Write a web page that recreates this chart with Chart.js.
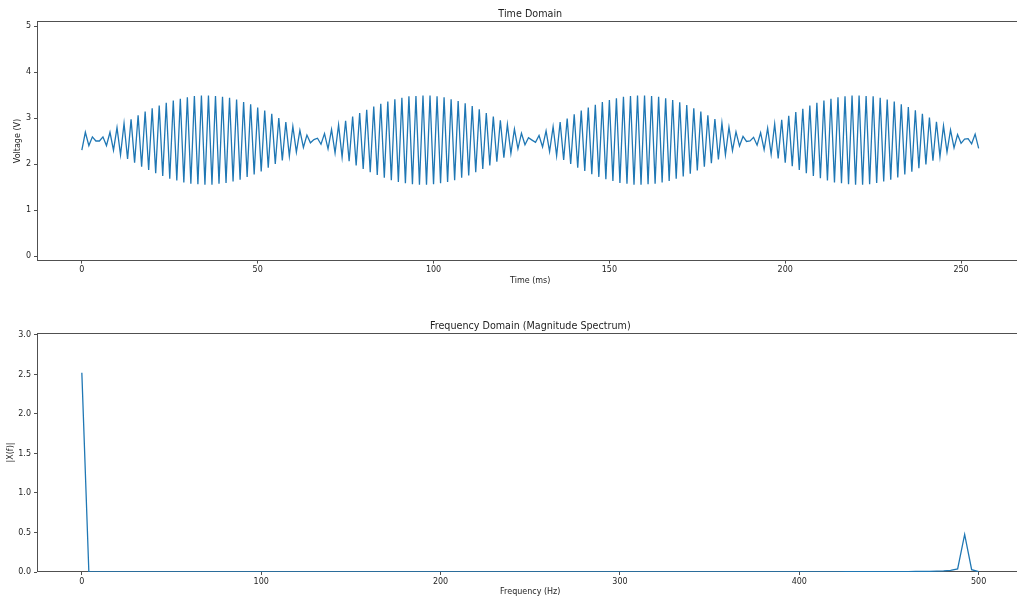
<!DOCTYPE html>
<html>
<head>
<meta charset="utf-8">
<script src="https://cdn.jsdelivr.net/npm/chart.js@4.4.1/dist/chart.umd.min.js"></script>
<style>
  html, body { margin: 0; padding: 0; background: #fff; overflow: hidden; }
  #wrap { position: relative; width: 1017px; height: 601px; overflow: hidden; background: #fff; }
  canvas { position: absolute; left: 0; }
  #timeCanvas { top: 0; width: 1040px; height: 300px; }
  #freqCanvas { top: 300px; width: 1040px; height: 301px; }
</style>
</head>
<body>
<div id="wrap">
  <canvas id="timeCanvas" width="1040" height="300"></canvas>
  <canvas id="freqCanvas" width="1040" height="301"></canvas>
</div>
<script>
// Sample times of the captured record (ms)
const timeMs = [
  0, 1, 2, 3, 4, 5, 6, 7, 8, 9, 10, 11, 12, 13, 14, 15,
  16, 17, 18, 19, 20, 21, 22, 23, 24, 25, 26, 27, 28, 29, 30, 31,
  32, 33, 34, 35, 36, 37, 38, 39, 40, 41, 42, 43, 44, 45, 46, 47,
  48, 49, 50, 51, 52, 53, 54, 55, 56, 57, 58, 59, 60, 61, 62, 63,
  64, 65, 66, 67, 68, 69, 70, 71, 72, 73, 74, 75, 76, 77, 78, 79,
  80, 81, 82, 83, 84, 85, 86, 87, 88, 89, 90, 91, 92, 93, 94, 95,
  96, 97, 98, 99, 100, 101, 102, 103, 104, 105, 106, 107, 108, 109, 110, 111,
  112, 113, 114, 115, 116, 117, 118, 119, 120, 121, 122, 123, 124, 125, 126, 127,
  128, 129, 130, 131, 132, 133, 134, 135, 136, 137, 138, 139, 140, 141, 142, 143,
  144, 145, 146, 147, 148, 149, 150, 151, 152, 153, 154, 155, 156, 157, 158, 159,
  160, 161, 162, 163, 164, 165, 166, 167, 168, 169, 170, 171, 172, 173, 174, 175,
  176, 177, 178, 179, 180, 181, 182, 183, 184, 185, 186, 187, 188, 189, 190, 191,
  192, 193, 194, 195, 196, 197, 198, 199, 200, 201, 202, 203, 204, 205, 206, 207,
  208, 209, 210, 211, 212, 213, 214, 215, 216, 217, 218, 219, 220, 221, 222, 223,
  224, 225, 226, 227, 228, 229, 230, 231, 232, 233, 234, 235, 236, 237, 238, 239,
  240, 241, 242, 243, 244, 245, 246, 247, 248, 249, 250, 251, 252, 253, 254, 255
];

// Measured voltage at each sample (V)
const voltage = [
  2.30, 2.69, 2.40, 2.59, 2.50, 2.50, 2.59, 2.40, 2.69, 2.30, 2.79, 2.20, 2.88, 2.11, 2.97, 2.03,
  3.06, 1.94, 3.14, 1.87, 3.21, 1.80, 3.27, 1.74, 3.33, 1.68, 3.38, 1.64, 3.42, 1.60, 3.45, 1.57,
  3.48, 1.56, 3.49, 1.55, 3.49, 1.55, 3.48, 1.57, 3.46, 1.59, 3.44, 1.62, 3.40, 1.66, 3.35, 1.72,
  3.30, 1.77, 3.23, 1.84, 3.16, 1.92, 3.09, 2.00, 3.00, 2.08, 2.91, 2.17, 2.82, 2.26, 2.73, 2.36,
  2.63, 2.46, 2.53, 2.56, 2.43, 2.66, 2.33, 2.75, 2.24, 2.85, 2.15, 2.94, 2.06, 3.03, 1.97, 3.11,
  1.89, 3.18, 1.82, 3.25, 1.76, 3.31, 1.70, 3.36, 1.65, 3.41, 1.61, 3.44, 1.58, 3.47, 1.56, 3.48,
  1.55, 3.49, 1.55, 3.49, 1.56, 3.47, 1.58, 3.45, 1.61, 3.41, 1.65, 3.37, 1.70, 3.32, 1.75, 3.26,
  1.82, 3.19, 1.89, 3.11, 1.97, 3.03, 2.05, 2.95, 2.14, 2.86, 2.23, 2.76, 2.33, 2.67, 2.42, 2.57,
  2.52, 2.47, 2.62, 2.37, 2.72, 2.27, 2.81, 2.18, 2.91, 2.09, 2.99, 2.00, 3.08, 1.92, 3.16, 1.85,
  3.23, 1.78, 3.29, 1.72, 3.35, 1.67, 3.39, 1.63, 3.43, 1.59, 3.46, 1.57, 3.48, 1.55, 3.49, 1.55,
  3.49, 1.56, 3.48, 1.57, 3.46, 1.60, 3.43, 1.63, 3.39, 1.68, 3.34, 1.73, 3.28, 1.79, 3.21, 1.86,
  3.14, 1.94, 3.06, 2.02, 2.98, 2.10, 2.89, 2.20, 2.80, 2.29, 2.70, 2.39, 2.60, 2.49, 2.50, 2.58,
  2.41, 2.68, 2.31, 2.78, 2.21, 2.87, 2.12, 2.96, 2.03, 3.05, 1.95, 3.13, 1.87, 3.20, 1.80, 3.27,
  1.74, 3.33, 1.69, 3.38, 1.64, 3.42, 1.60, 3.45, 1.58, 3.47, 1.56, 3.49, 1.55, 3.49, 1.55, 3.48,
  1.56, 3.47, 1.59, 3.44, 1.62, 3.40, 1.66, 3.36, 1.71, 3.30, 1.77, 3.24, 1.83, 3.17, 1.91, 3.09,
  1.99, 3.01, 2.07, 2.92, 2.16, 2.83, 2.26, 2.74, 2.35, 2.64, 2.45, 2.54, 2.55, 2.44, 2.65, 2.34
];

// FFT bin frequencies (Hz)
const freqHz = [
  0, 3.91, 7.81, 11.72, 15.63, 19.53, 23.44, 27.34, 31.25, 35.16, 39.06, 42.97, 46.88, 50.78, 54.69, 58.59,
  62.5, 66.41, 70.31, 74.22, 78.13, 82.03, 85.94, 89.84, 93.75, 97.66, 101.56, 105.47, 109.38, 113.28, 117.19, 121.09,
  125, 128.91, 132.81, 136.72, 140.63, 144.53, 148.44, 152.34, 156.25, 160.16, 164.06, 167.97, 171.88, 175.78, 179.69, 183.59,
  187.5, 191.41, 195.31, 199.22, 203.13, 207.03, 210.94, 214.84, 218.75, 222.66, 226.56, 230.47, 234.38, 238.28, 242.19, 246.09,
  250, 253.91, 257.81, 261.72, 265.63, 269.53, 273.44, 277.34, 281.25, 285.16, 289.06, 292.97, 296.88, 300.78, 304.69, 308.59,
  312.5, 316.41, 320.31, 324.22, 328.13, 332.03, 335.94, 339.84, 343.75, 347.66, 351.56, 355.47, 359.38, 363.28, 367.19, 371.09,
  375, 378.91, 382.81, 386.72, 390.63, 394.53, 398.44, 402.34, 406.25, 410.16, 414.06, 417.97, 421.88, 425.78, 429.69, 433.59,
  437.5, 441.41, 445.31, 449.22, 453.13, 457.03, 460.94, 464.84, 468.75, 472.66, 476.56, 480.47, 484.38, 488.28, 492.19, 496.09,
  500
];

// Magnitude |X(f)| of each bin
const magnitude = [
  2.52, 0.0006, 0.0006, 0.0006, 0.0006, 0.0006, 0.0006, 0.0006, 0.0006, 0.0006, 0.0006, 0.0006, 0.0006, 0.0006, 0.0006, 0.0006,
  0.0006, 0.0006, 0.0006, 0.0006, 0.0006, 0.0006, 0.0006, 0.0006, 0.0006, 0.0006, 0.0006, 0.0006, 0.0006, 0.0006, 0.0006, 0.0007,
  0.0007, 0.0007, 0.0007, 0.0007, 0.0007, 0.0007, 0.0007, 0.0007, 0.0007, 0.0007, 0.0007, 0.0007, 0.0007, 0.0007, 0.0007, 0.0007,
  0.0007, 0.0007, 0.0007, 0.0007, 0.0007, 0.0007, 0.0007, 0.0007, 0.0008, 0.0008, 0.0008, 0.0008, 0.0008, 0.0008, 0.0008, 0.0008,
  0.0008, 0.0008, 0.0009, 0.0009, 0.0009, 0.0009, 0.0009, 0.0009, 0.0009, 0.001, 0.001, 0.001, 0.001, 0.001, 0.001, 0.0011,
  0.0011, 0.0011, 0.0011, 0.0011, 0.0012, 0.0012, 0.0012, 0.0012, 0.0014, 0.0014, 0.0014, 0.0015, 0.0015, 0.0015, 0.0016, 0.0016,
  0.0016, 0.0018, 0.0018, 0.0018, 0.0019, 0.002, 0.0021, 0.0022, 0.0022, 0.0023, 0.0025, 0.0026, 0.0027, 0.0029, 0.003, 0.0032,
  0.0034, 0.0037, 0.0039, 0.0042, 0.0046, 0.0051, 0.0056, 0.0064, 0.0074, 0.0087, 0.0107, 0.0139, 0.0202, 0.0395, 0.475, 0.03,
  0.005
];

// Axis ticks
const timeTicks = [0, 50, 100, 150, 200, 250];
const voltTicks = [0, 1, 2, 3, 4, 5];
const voltTickLabels = ['0', '1', '2', '3', '4', '5'];
const freqTicks = [0, 100, 200, 300, 400, 500];
const magTicks = [0, 0.5, 1, 1.5, 2, 2.5, 3];
const magTickLabels = ['0.0', '0.5', '1.0', '1.5', '2.0', '2.5', '3.0'];

const FONT = "'DejaVu Sans', sans-serif";
const INK = '#1e1e1e';
const SPINE = '#505050';
const TRACE = '#1f77b4';

Chart.defaults.font.family = FONT;
Chart.defaults.color = INK;

// Box around the plotting area (all four sides), drawn under the trace
const frame = {
  id: 'frame',
  beforeDatasetsDraw(chart) {
    const { ctx, chartArea: a } = chart;
    const l = Math.round(a.left) + 0.5, t = Math.round(a.top) + 0.5;
    const r = Math.round(a.right) - 0.5, b = Math.round(a.bottom) - 0.5;
    ctx.save();
    ctx.strokeStyle = SPINE;
    ctx.lineWidth = 1;
    ctx.strokeRect(l, t, r - l, b - t);
    ctx.restore();
  }
};

function panel(canvas, o) {
  const points = o.xs.map((x, i) => ({ x, y: o.ys[i] }));
  return new Chart(canvas, {
    type: 'line',
    data: {
      datasets: [{
        data: points,
        borderColor: TRACE,
        borderWidth: 1.3,
        pointRadius: 0,
        fill: false,
        tension: 0
      }]
    },
    options: {
      responsive: false,
      animation: false,
      devicePixelRatio: 1,
      layout: { padding: { left: 0, right: 16.5, top: 0, bottom: 0 } },
      plugins: {
        legend: { display: false },
        tooltip: { enabled: false },
        title: {
          display: true,
          text: o.title,
          fullSize: false,
          color: INK,
          font: { family: FONT, size: 9.6, weight: 'normal', lineHeight: 1.2 },
          padding: { top: o.titleTop, bottom: o.titleBottom }
        }
      },
      scales: {
        x: {
          type: 'linear',
          min: o.xMin,
          max: o.xMax,
          afterBuildTicks: s => { s.ticks = o.xTicks.map(v => ({ value: v })); },
          afterFit: s => { s.height = o.xHeight; },
          ticks: {
            autoSkip: false, maxRotation: 0, padding: 2, color: INK,
            font: { family: FONT, size: 8 },
            callback: v => String(v)
          },
          grid: {
            display: true, drawOnChartArea: false, drawTicks: true,
            tickLength: 3, tickColor: SPINE, lineWidth: 1
          },
          border: { display: false },
          title: {
            display: true, text: o.xLabel, color: INK,
            font: { family: FONT, size: 8, lineHeight: 1.2 },
            padding: { top: 0, bottom: o.xLabelBottom }
          }
        },
        y: {
          type: 'linear',
          min: o.yMin,
          max: o.yMax,
          afterBuildTicks: s => { s.ticks = o.yTicks.map(v => ({ value: v })); },
          afterFit: s => { s.width = 37; },
          ticks: {
            autoSkip: false, padding: 3, color: INK,
            font: { family: FONT, size: 8 },
            callback: (v, i) => o.yTickLabels[i]
          },
          grid: {
            display: true, drawOnChartArea: false, drawTicks: true,
            tickLength: 3, tickColor: SPINE, lineWidth: 1
          },
          border: { display: false },
          title: {
            display: true, text: o.yLabel, color: INK,
            font: { family: FONT, size: 8, lineHeight: 1.2 },
            padding: { top: o.yLabelLeft, bottom: 0 }
          }
        }
      }
    },
    plugins: [frame]
  });
}

panel(document.getElementById('timeCanvas'), {
  xs: timeMs, ys: voltage,
  title: 'Time Domain', titleTop: 8.7, titleBottom: 1.2,
  xMin: -12.75, xMax: 267.75, xTicks: timeTicks, xHeight: 39.4,
  xLabel: 'Time (ms)', xLabelBottom: 14.2,
  yMin: -0.1, yMax: 5.1, yTicks: voltTicks, yTickLabels: voltTickLabels,
  yLabel: 'Voltage (V)', yLabelLeft: 13.5
});

panel(document.getElementById('freqCanvas'), {
  xs: freqHz, ys: magnitude,
  title: 'Frequency Domain (Magnitude Spectrum)', titleTop: 20.7, titleBottom: 0.8,
  xMin: -25, xMax: 525, xTicks: freqTicks, xHeight: 29,
  xLabel: 'Frequency (Hz)', xLabelBottom: 4.2,
  yMin: 0, yMax: 3.024, yTicks: magTicks, yTickLabels: magTickLabels,
  yLabel: '|X(f)|', yLabelLeft: 6.5
});
</script>
</body>
</html>
